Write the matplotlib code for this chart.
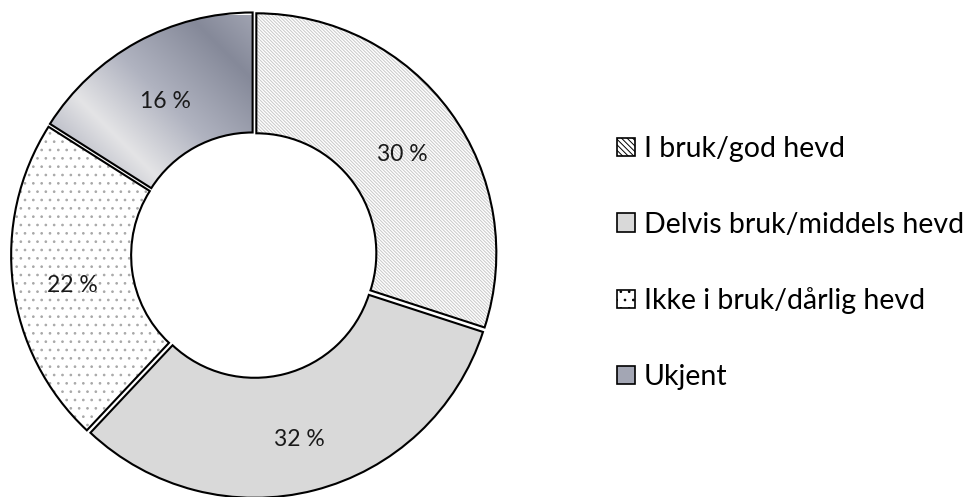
import matplotlib.pyplot as plt
import numpy as np
from matplotlib.patches import Patch
from matplotlib.colors import LinearSegmentedColormap

labels = ['I bruk/god hevd', 'Delvis bruk/middels hevd', 'Ikke i bruk/dårlig hevd', 'Ukjent']
shares = [30, 32, 22, 16]

plt.rcParams['font.family'] = ['Lato', 'DejaVu Sans']
plt.rcParams['hatch.linewidth'] = 0.7

fig = plt.figure(figsize=(9.66, 4.97), dpi=100)
# centre (254, 255) px, outer radius 240 px
ax = fig.add_axes([14 / 966, 2 / 497, 480 / 966, 480 / 497])

faces = ['white', '#d9d9d9', 'white', 'none']
hatches = ['\\\\\\\\\\\\\\\\\\\\', None, '..', None]
hatchcol = ['#c8c8c8', '#d9d9d9', '#a8a8a8', 'none']
expl = [0.012] * 4

# fills + hatch
w1, _ = ax.pie(shares, startangle=90, counterclock=False, radius=1,
               explode=expl, wedgeprops=dict(width=0.5, linewidth=0))
for w, f, h, hc in zip(w1, faces, hatches, hatchcol):
    w.set_facecolor(f)
    w.set_edgecolor(hc)
    if h:
        w.set_hatch(h)

# metallic gradient for "Ukjent"
metal = LinearSegmentedColormap.from_list('metal', [
    (0.0, '#7a7e90'), (0.2, '#a9acba'), (0.4, '#e4e4e6'),
    (0.6, '#b0b3c0'), (0.85, '#858999'), (1.0, '#a0a3b1')])
x0, x1, y0, y1 = -1.0, 0.0, 0.2, 1.0
gx, gy = np.meshgrid(np.linspace(x0, x1, 300), np.linspace(y0, y1, 300))
grad = (gx - x0) + (gy - y0)
img = ax.imshow(grad, extent=[x0, x1, y0, y1], origin='lower',
                cmap=metal, vmin=0, vmax=1.8, zorder=1, aspect='auto')
img.set_clip_path(w1[3])

# black outlines
w2, _, autotexts = ax.pie(shares, startangle=90, counterclock=False, radius=1,
                          explode=expl, autopct=lambda p: f'{p:.0f} %',
                          pctdistance=0.75,
                          textprops=dict(fontsize=16.5, color='#1a1a1a'),
                          wedgeprops=dict(width=0.5, linewidth=1.5,
                                          edgecolor='black', facecolor='none'))
for w in w2:
    w.set_zorder(3)
for t in autotexts:
    t.set_zorder(4)
    tx, ty = t.get_position()
    t.set_position((tx, ty - 0.03))

ax.set_xlim(-1, 1)
ax.set_ylim(-1, 1)
ax.set_aspect('equal')

handles = [
    Patch(facecolor='white', edgecolor='black', hatch='\\\\\\\\\\\\', linewidth=1.2),
    Patch(facecolor='#d9d9d9', edgecolor='black', linewidth=1.2),
    Patch(facecolor='white', edgecolor='black', hatch='..', linewidth=1.2),
    Patch(facecolor='#a3a6b4', edgecolor='black', linewidth=1.2),
]
fig.legend(handles, labels, loc='center left', bbox_to_anchor=(606 / 966, 234 / 497),
           frameon=False, fontsize=20.5, handlelength=0.62, handleheight=0.62,
           handletextpad=0.3, labelspacing=1.74, borderaxespad=0)

fig.savefig('out.png', dpi=100)
